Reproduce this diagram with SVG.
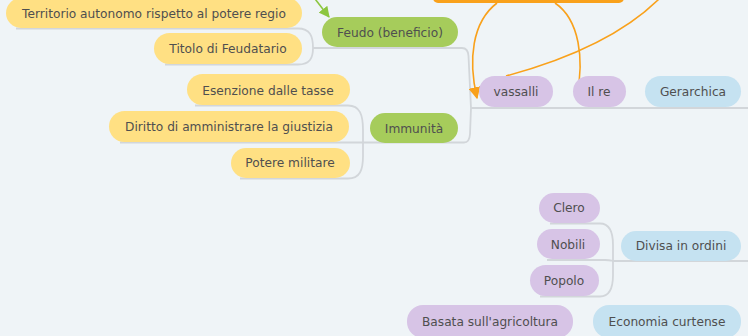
<svg xmlns="http://www.w3.org/2000/svg" width="748" height="336" viewBox="0 0 748 336">
<defs>
<style>
.bg{fill:#eff4f7}
.n text{font-family:"DejaVu Sans",Verdana,sans-serif;font-size:12.2px;fill:#4f4f4f;text-anchor:middle}
.y rect{fill:#ffe083}
.g rect{fill:#a6cc5b}
.p rect{fill:#d7c4e6}
.b rect{fill:#c5e2f1}
.c{fill:none;stroke:#d2d6da;stroke-width:1.8}
.rel{fill:none;stroke:#f9a11b;stroke-width:1.6}
</style>
<marker id="ag" viewBox="0 0 10 10" refX="9" refY="5" markerWidth="11" markerHeight="11" orient="auto" markerUnits="userSpaceOnUse">
<path d="M0,0 L10,5 L0,10 z" fill="#8cc63f"/>
</marker>
<marker id="ao2" viewBox="0 0 10 10" refX="9" refY="5" markerWidth="12" markerHeight="12" orient="auto" markerUnits="userSpaceOnUse">
<path d="M0,0 L10,5 L0,10 z" fill="#f9a11b"/>
</marker>
</defs>
<rect class="bg" x="0" y="0" width="748" height="336"/>
<g id="connectors">
<path class="c" d="M16 28.5 H298 C310 28.5 313 36 313 48"/>
<path class="c" d="M165 64.5 H298 C310 64.5 313 58 313 48"/>
<path class="c" d="M313 48 H462 Q468 48 468.5 56 L471 108"/>
<path class="c" d="M195 105.5 H348 C360 105.5 363 115 363 130 V143"/>
<path class="c" d="M240 178.5 H348 C360 178.5 363 170 363 156 V143"/>
<path class="c" d="M120 142.5 H464 Q469.5 142.5 470 134 L471 108"/>
<path class="c" d="M471 108 H748"/>
<path class="c" d="M550 223.5 H600 C610 223.5 613 232 613 245 V261"/>
<path class="c" d="M540 296.5 H600 C610 296.5 613 288 613 275 V261"/>
<path class="c" d="M547 260 H605 Q613 260.5 613 261 H748"/>
</g>
<g id="relations">
<path class="rel" d="M497 3 C472 22 468 60 477 98" marker-end="url(#ao2)"/>
<path class="rel" d="M555 3 C580 20 584 60 577 95"/>
<path class="rel" d="M660 -2 Q610 48 506 76"/>
<path d="M312 -5 L329 17" fill="none" stroke="#8cc63f" stroke-width="1.6" marker-end="url(#ag)"/>
</g>
<g id="orange-topic"><rect x="433" y="-30" width="191" height="33" rx="5" fill="#f9a11b"/></g>
<g id="territorio" class="n y"><rect x="6" y="-2" width="296" height="30" rx="15"/><text x="154" y="17.5">Territorio autonomo rispetto al potere regio</text></g>
<g id="titolo" class="n y"><rect x="154" y="33" width="148" height="31" rx="15.5"/><text x="228" y="53">Titolo di Feudatario</text></g>
<g id="feudo" class="n g"><rect x="322" y="17" width="136" height="30" rx="15"/><text x="390" y="36.5">Feudo (beneficio)</text></g>
<g id="esenzione" class="n y"><rect x="187" y="74" width="163" height="31" rx="15.5"/><text x="268" y="94.5">Esenzione dalle tasse</text></g>
<g id="diritto" class="n y"><rect x="109" y="111" width="240" height="31" rx="15.5"/><text x="229" y="131">Diritto di amministrare la giustizia</text></g>
<g id="potere" class="n y"><rect x="231" y="148" width="119" height="30" rx="15"/><text x="290" y="167">Potere militare</text></g>
<g id="immunita" class="n g"><rect x="370" y="113" width="88" height="30" rx="15"/><text x="414" y="132.5">Immunità</text></g>
<g id="vassalli" class="n p"><rect x="479" y="76" width="74" height="31" rx="15.5"/><text x="516" y="96">vassalli</text></g>
<g id="ilre" class="n p"><rect x="573" y="76" width="53" height="31" rx="15.5"/><text x="599" y="96">Il re</text></g>
<g id="gerarchica" class="n b"><rect x="645" y="76" width="96" height="31" rx="15.5"/><text x="693" y="96">Gerarchica</text></g>
<g id="clero" class="n p"><rect x="539" y="193" width="61" height="30" rx="15"/><text x="569" y="212">Clero</text></g>
<g id="nobili" class="n p"><rect x="537" y="229" width="63" height="30" rx="15"/><text x="568" y="248.5">Nobili</text></g>
<g id="popolo" class="n p"><rect x="530" y="265" width="69" height="31" rx="15.5"/><text x="564" y="285">Popolo</text></g>
<g id="divisa" class="n b"><rect x="621" y="231" width="120" height="30" rx="15"/><text x="681" y="250">Divisa in ordini</text></g>
<g id="basata" class="n p"><rect x="407" y="305" width="166" height="33" rx="16"/><text x="490" y="326">Basata sull'agricoltura</text></g>
<g id="economia" class="n b"><rect x="593" y="305" width="148" height="33" rx="16"/><text x="667" y="326">Economia curtense</text></g>
</svg>
